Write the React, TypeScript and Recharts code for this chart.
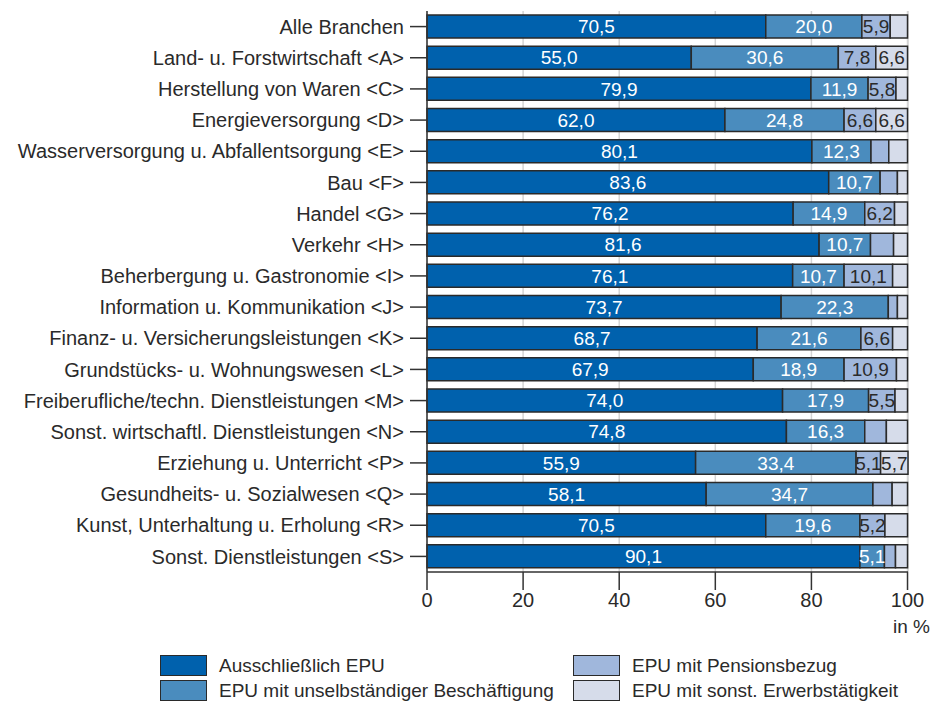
import React from "react";
import {
  BarChart,
  Bar,
  XAxis,
  YAxis,
  CartesianGrid,
  LabelList,
} from "recharts";

const CATEGORIES = [
  "Alle Branchen",
  "Land- u. Forstwirtschaft <A>",
  "Herstellung von Waren <C>",
  "Energieversorgung <D>",
  "Wasserversorgung u. Abfallentsorgung <E>",
  "Bau <F>",
  "Handel <G>",
  "Verkehr <H>",
  "Beherbergung u. Gastronomie <I>",
  "Information u. Kommunikation <J>",
  "Finanz- u. Versicherungsleistungen <K>",
  "Grundstücks- u. Wohnungswesen <L>",
  "Freiberufliche/techn. Dienstleistungen <M>",
  "Sonst. wirtschaftl. Dienstleistungen <N>",
  "Erziehung u. Unterricht <P>",
  "Gesundheits- u. Sozialwesen <Q>",
  "Kunst, Unterhaltung u. Erholung <R>",
  "Sonst. Dienstleistungen <S>",
];

const AUSSCHLIESSLICH = [70.5, 55.0, 79.9, 62.0, 80.1, 83.6, 76.2, 81.6, 76.1, 73.7, 68.7, 67.9, 74.0, 74.8, 55.9, 58.1, 70.5, 90.1];
const UNSELBSTAENDIG = [20.0, 30.6, 11.9, 24.8, 12.3, 10.7, 14.9, 10.7, 10.7, 22.3, 21.6, 18.9, 17.9, 16.3, 33.4, 34.7, 19.6, 5.1];
const PENSION = [5.9, 7.8, 5.8, 6.6, 3.7, 3.6, 6.2, 4.8, 10.1, 1.9, 6.6, 10.9, 5.5, 4.5, 5.1, 4.0, 5.2, 2.3];
const SONSTIGE = [3.6, 6.6, 2.4, 6.6, 3.9, 2.1, 2.7, 2.9, 3.1, 2.1, 3.1, 2.3, 2.6, 4.4, 5.7, 3.2, 4.7, 2.5];

const X_TICKS = [0, 20, 40, 60, 80, 100];

const SERIES = [
  { key: "a", name: "Ausschließlich EPU", color: "#0061ad", text: "#ffffff" },
  { key: "b", name: "EPU mit unselbständiger Beschäftigung", color: "#4a8cbe", text: "#ffffff" },
  { key: "c", name: "EPU mit Pensionsbezug", color: "#a0b7dc", text: "#2a2a2a" },
  { key: "d", name: "EPU mit sonst. Erwerbstätigkeit", color: "#d6dcea", text: "#2a2a2a" },
];

const data = CATEGORIES.map((name, i) => ({
  name,
  a: AUSSCHLIESSLICH[i],
  b: UNSELBSTAENDIG[i],
  c: PENSION[i],
  d: SONSTIGE[i],
}));

const FONT = "'Liberation Sans', Arial, sans-serif";

const fmt = (v: number) => (v >= 5 ? v.toFixed(1).replace(".", ",") : "");

function LegendItem({ color, label }: { color: string; label: string }) {
  return (
    <div style={{ display: "flex", alignItems: "center", height: 25 }}>
      <div
        style={{
          width: 45,
          height: 19,
          background: color,
          border: "1px solid #2a2a2a",
          marginRight: 12,
        }}
      />
      <span style={{ fontSize: 19, color: "#2a2a2a" }}>{label}</span>
    </div>
  );
}

export default function App() {
  return (
    <div
      style={{
        position: "absolute",
        left: 0,
        top: 0,
        width: 933,
        height: 706,
        background: "#fff",
        fontFamily: FONT,
      }}
    >
      <BarChart
        width={933}
        height={640}
        data={data}
        layout="vertical"
        margin={{ top: 11, right: 25, left: 0, bottom: 28 }}
        barCategoryGap={4}
      >
        <CartesianGrid horizontal={false} stroke="#d4d4d4" strokeWidth={1.5} />
        <XAxis
          type="number"
          domain={[0, 100]}
          ticks={X_TICKS}
          interval={0}
          height={40}
          tickSize={18}
          tickMargin={3}
          stroke="#333"
          axisLine={{ stroke: "#333", strokeWidth: 1.5 }}
          tickLine={{ stroke: "#333", strokeWidth: 1.5 }}
          tick={{ fontSize: 20, fill: "#2a2a2a", fontFamily: FONT }}
        />
        <YAxis
          type="category"
          dataKey="name"
          width={427}
          interval={0}
          tickSize={17}
          tickMargin={6}
          axisLine={{ stroke: "#333", strokeWidth: 1.5 }}
          tickLine={{ stroke: "#333", strokeWidth: 1.5 }}
          tick={{ fontSize: 20, fill: "#2a2a2a", fontFamily: FONT }}
        />
        {SERIES.map((s) => (
          <Bar
            key={s.key}
            dataKey={s.key}
            name={s.name}
            stackId="x"
            fill={s.color}
            stroke="#2a2a2a"
            strokeWidth={1.5}
            isAnimationActive={false}
          >
            <LabelList
              dataKey={s.key}
              position="center"
              formatter={(v: any) => fmt(Number(v))}
              style={{ fontSize: 19, fill: s.text, fontFamily: FONT }}
            />
          </Bar>
        ))}
      </BarChart>
      <div
        style={{
          position: "absolute",
          right: 3,
          top: 616,
          fontSize: 19,
          color: "#2a2a2a",
        }}
      >
        in %
      </div>
      <div style={{ position: "absolute", left: 160, top: 653 }}>
        <LegendItem color={SERIES[0].color} label={SERIES[0].name} />
        <LegendItem color={SERIES[1].color} label={SERIES[1].name} />
      </div>
      <div style={{ position: "absolute", left: 573, top: 653 }}>
        <LegendItem color={SERIES[2].color} label={SERIES[2].name} />
        <LegendItem color={SERIES[3].color} label={SERIES[3].name} />
      </div>
    </div>
  );
}
